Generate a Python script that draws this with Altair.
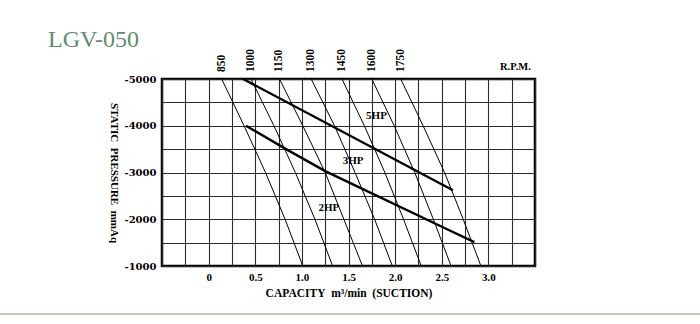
import altair as alt
import pandas as pd

# ---- data ----
pressure_levels = [-5000, -4000, -3000, -2000, -1000]   # mmAq
rpm_names = ["850", "1000", "1150", "1300", "1450", "1600", "1750"]
rpm_850 = [0.14, 0.38, 0.61, 0.82, 1.01]
rpm_1000 = [0.455, 0.70, 0.93, 1.14, 1.33]
rpm_1150 = [0.76, 1.01, 1.25, 1.45, 1.65]
rpm_1300 = [1.10, 1.35, 1.57, 1.78, 1.97]
rpm_1450 = [1.43, 1.67, 1.89, 2.09, 2.28]
rpm_1600 = [1.75, 1.99, 2.21, 2.41, 2.60]
rpm_1750 = [2.06, 2.30, 2.53, 2.73, 2.92]
rpm_series = [rpm_850, rpm_1000, rpm_1150, rpm_1300, rpm_1450, rpm_1600, rpm_1750]

hp5_capacity = [0.37, 2.62]
hp5_pressure = [-5000, -2620]
hp3_capacity = [0.40, 0.83, 1.25, 2.58, 2.85]
hp3_pressure = [-4000, -3500, -3030, -1764, -1510]

hp_labels = ["5HP", "3HP", "2HP"]
hp_label_x = [1.80, 1.55, 1.29]
hp_label_y = [-4210, -3250, -2230]

x_grid_values = [-0.5, -0.25, 0, 0.25, 0.5, 0.75, 1.0, 1.25, 1.5, 1.75, 2.0,
                 2.25, 2.5, 2.75, 3.0, 3.25, 3.5]
y_grid_values = [-5000, -4500, -4000, -3500, -3000, -2500, -2000, -1500, -1000]

rpm_unit_label = ["R.P.M."]
rpm_unit_x = [3.29]
rpm_unit_y = [-5000]

# ---- tables ----
rpm_rows = []
for name, xs in zip(rpm_names, rpm_series):
    for i, (cx, py) in enumerate(zip(xs, pressure_levels)):
        rpm_rows.append({"rpm": name, "capacity": cx, "pressure": py, "order": i})
rpm_df = pd.DataFrame(rpm_rows)

hp_rows = []
for i, (cx, py) in enumerate(zip(hp5_capacity, hp5_pressure)):
    hp_rows.append({"hp": "5HP", "capacity": cx, "pressure": py, "order": i})
for i, (cx, py) in enumerate(zip(hp3_capacity, hp3_pressure)):
    hp_rows.append({"hp": "3HP", "capacity": cx, "pressure": py, "order": i})
hp_df = pd.DataFrame(hp_rows)

rpm_label_df = pd.DataFrame({"rpm": rpm_names,
                             "capacity": [s[0] for s in rpm_series],
                             "pressure": [pressure_levels[0]] * len(rpm_names)})
hp_label_df = pd.DataFrame({"label": hp_labels, "capacity": hp_label_x,
                            "pressure": hp_label_y})
unit_df = pd.DataFrame({"label": rpm_unit_label, "capacity": rpm_unit_x,
                        "pressure": rpm_unit_y})

SERIF = "Liberation Serif"

x_scale = alt.Scale(domain=[-0.5, 3.5], nice=False, zero=False)
y_scale = alt.Scale(domain=[-5000, -1000], reverse=True, nice=False, zero=False)

x_axis = alt.Axis(
    values=x_grid_values, grid=True, ticks=False, domain=False,
    labelExpr="datum.value >= 0 && datum.value <= 3 && (datum.value * 2) % 1 == 0 ? "
              "(datum.value == 0 ? '0' : format(datum.value, '.1f')) : ''",
    labelOverlap=False, labelFlush=False,
    labelFont=SERIF, labelFontWeight="bold", labelFontSize=11, labelColor="black",
    labelPadding=5,
    title="CAPACITY\u00a0\u00a0m\u00b3/min\u00a0\u00a0(SUCTION)",
    titleFont=SERIF, titleFontWeight="bold", titleFontSize=11.5, titleColor="black",
    titlePadding=5,
)
y_axis = alt.Axis(
    values=y_grid_values, grid=True, ticks=False, domain=False,
    labelExpr="datum.value % 1000 == 0 ? '' + datum.value : ''",
    labelOverlap=False, labelFlush=False,
    labelFont="DejaVu Serif", labelFontWeight="bold", labelFontSize=10,
    labelColor="black", labelPadding=6,
    title="STATIC\u00a0\u00a0PRESSURE\u00a0\u00a0mmAq", titleAngle=90,
    titleFont=SERIF, titleFontWeight="bold", titleFontSize=11, titleColor="black",
    titlePadding=16,
)

def X():
    return alt.X("capacity:Q", scale=x_scale, axis=x_axis)

def Y():
    return alt.Y("pressure:Q", scale=y_scale, axis=y_axis)

rpm_lines = alt.Chart(rpm_df).mark_line(color="black", strokeWidth=1).encode(
    x=X(), y=Y(), detail="rpm:N", order="order:Q")

hp_lines = alt.Chart(hp_df).mark_line(color="black", strokeWidth=2.4).encode(
    x=X(), y=Y(), detail="hp:N", order="order:Q")

rpm_text = alt.Chart(rpm_label_df).mark_text(
    angle=270, align="left", baseline="middle", dx=7,
    font=SERIF, fontWeight="bold", fontSize=11.5, color="black").encode(
    x=X(), y=Y(), text="rpm:N")

hp_text = alt.Chart(hp_label_df).mark_text(
    align="center", baseline="middle",
    font=SERIF, fontWeight="bold", fontSize=11, color="black").encode(
    x=X(), y=Y(), text="label:N")

unit_text = alt.Chart(unit_df).mark_text(
    align="center", baseline="middle", dy=-12,
    font=SERIF, fontWeight="bold", fontSize=10.5, color="black").encode(
    x=X(), y=Y(), text="label:N")

separator = alt.Chart(pd.DataFrame({"a": [0]})).mark_rule(
    color="#c6c9b6", strokeWidth=2).encode(
    x=alt.value(-162), x2=alt.value(538), y=alt.value(235))

chart = alt.layer(rpm_lines, hp_lines, rpm_text, hp_text, unit_text, separator).properties(
    width=373, height=187,
    title=alt.TitleParams("LGV-050", anchor="start", frame="group", dx=-114, dy=19,
                          font=SERIF, fontSize=24, fontWeight="normal",
                          color="#5f8b72", offset=16),
    autosize=alt.AutoSizeParams(type="none"),
    padding={"left": 162, "top": 79, "right": 165, "bottom": 58},
    background="white",
).configure_view(stroke="black", strokeWidth=2.5).configure_axis(
    gridColor="#2a2a2a", gridWidth=1.1, gridOpacity=1)

chart.save("out.html", embed_options={"renderer": "svg", "actions": False})
